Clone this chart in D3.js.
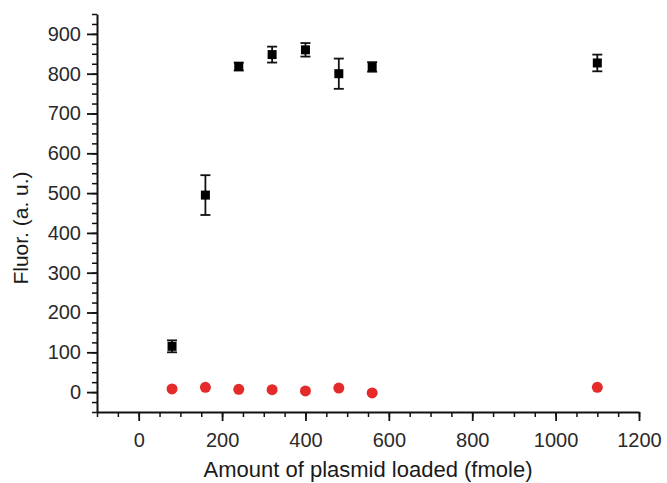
<!DOCTYPE html>
<html>
<head>
<meta charset="utf-8">
<script src="https://cdn.jsdelivr.net/npm/d3@7"></script>
<style>
  body { margin: 0; background: #fff; }
  svg { font-family: "Liberation Sans", Arial, sans-serif; }
  .axis path, .axis line { stroke: #111; }
  .axis text { fill: #2a2a2a; font-size: 20px; }
</style>
</head>
<body>
<svg id="chart" width="667" height="483"></svg>
<script>
// data
var amounts = [80, 160, 240, 320, 400, 480, 560, 1100];
var fluorBlack = [115, 495, 818, 848, 860, 800, 817, 827];
var fluorBlackErr = [15, 50, 10, 20, 17, 38, 12, 21];
var fluorRed = [8, 12, 7, 6, 3, 10, -2, 12];

var xTicks = [0, 200, 400, 600, 800, 1000, 1200];
var yTicks = [0, 100, 200, 300, 400, 500, 600, 700, 800, 900];

var svg = d3.select("#chart");

var x = d3.scaleLinear().domain([-100, 1200]).range([97, 639]);
var y = d3.scaleLinear().domain([-50, 950]).range([412, 14]);

// minor ticks first
svg.append("g")
    .attr("class", "axis")
    .attr("transform", "translate(0,412)")
    .call(d3.axisBottom(x).tickValues(d3.range(-100, 1201, 50)).tickSize(5).tickFormat(""))
    .call(function(g) { g.select(".domain").remove(); })
    .selectAll("line").attr("stroke-width", 1.5);

svg.append("g")
    .attr("class", "axis")
    .attr("transform", "translate(97,0)")
    .call(d3.axisLeft(y).tickValues(d3.range(-50, 951, 25)).tickSize(5).tickFormat(""))
    .call(function(g) { g.select(".domain").remove(); })
    .selectAll("line").attr("stroke-width", 1.5);

// major axes
var xAxis = svg.append("g")
    .attr("class", "axis")
    .attr("transform", "translate(0,412)")
    .call(d3.axisBottom(x).tickValues(xTicks).tickFormat(d3.format("d"))
        .tickSize(9).tickSizeOuter(0).tickPadding(12));
xAxis.select(".domain").attr("stroke-width", 2);
xAxis.selectAll(".tick line").attr("stroke-width", 1.8);

var yAxis = svg.append("g")
    .attr("class", "axis")
    .attr("transform", "translate(97,0)")
    .call(d3.axisLeft(y).tickValues(yTicks).tickFormat(d3.format("d"))
        .tickSize(10).tickSizeOuter(0).tickPadding(6));
yAxis.select(".domain").attr("stroke-width", 2);
yAxis.selectAll(".tick line").attr("stroke-width", 1.8);

// axis titles
svg.append("text")
    .attr("x", 368)
    .attr("y", 477)
    .attr("text-anchor", "middle")
    .attr("font-size", 22)
    .attr("fill", "#1a1a1a")
    .text("Amount of plasmid loaded (fmole)");

svg.append("text")
    .attr("transform", "translate(28,228) rotate(-90)")
    .attr("text-anchor", "middle")
    .attr("font-size", 21)
    .attr("fill", "#1a1a1a")
    .text("Fluor. (a. u.)");

var points = amounts.map(function(a, i) {
    return { x: a, y: fluorBlack[i], err: fluorBlackErr[i], r: fluorRed[i] };
});

// error bars
var eb = svg.append("g").attr("stroke", "#111").attr("stroke-width", 1.8);
points.forEach(function(d) {
    var cx = x(d.x);
    eb.append("line").attr("x1", cx).attr("x2", cx)
        .attr("y1", y(d.y + d.err)).attr("y2", y(d.y - d.err));
    [d.y + d.err, d.y - d.err].forEach(function(v) {
        eb.append("line").attr("x1", cx - 5).attr("x2", cx + 5)
            .attr("y1", y(v)).attr("y2", y(v));
    });
});

// black squares
svg.append("g").selectAll("rect")
    .data(points)
    .join("rect")
    .attr("x", function(d) { return x(d.x) - 4.5; })
    .attr("y", function(d) { return y(d.y) - 4.5; })
    .attr("width", 9)
    .attr("height", 9)
    .attr("fill", "#000");

// red circles
svg.append("g").selectAll("circle")
    .data(points)
    .join("circle")
    .attr("cx", function(d) { return x(d.x); })
    .attr("cy", function(d) { return y(d.r); })
    .attr("r", 5.5)
    .attr("fill", "#e52a2a");
</script>
</body>
</html>
